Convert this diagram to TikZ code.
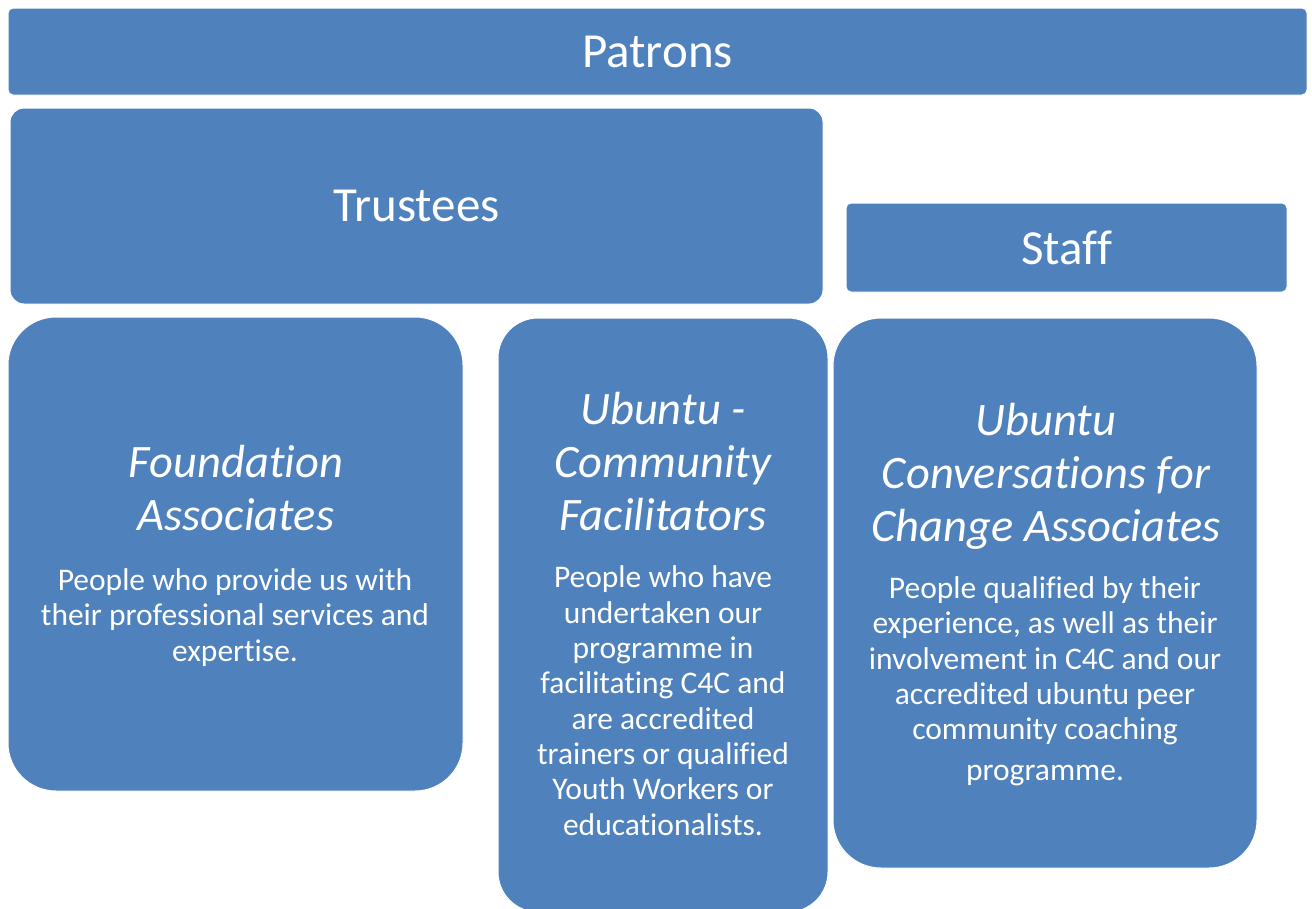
\documentclass[tikz,border=0pt]{standalone}
\usepackage{fontspec}
\setmainfont{Carlito}[Ligatures=NoCommon]
\usetikzlibrary{positioning}
\definecolor{boxblue}{HTML}{4F81BD}
\tikzset{
  box/.style={fill=boxblue, draw=white, line width=1pt, inner sep=0pt, text=white},
  head/.style={font=\fontsize{49}{58}\selectfont},
  title/.style={text=white, align=center, inner sep=0pt, anchor=base, font=\fontsize{46.5}{53}\selectfont\itshape},
  body/.style={text=white, align=center, inner sep=0pt, anchor=base, font=\fontsize{31.5}{35.3}\selectfont},
}

\begin{document}
\begin{tikzpicture}[x=1pt,y=-1pt]
\useasboundingbox[fill=white] (0,0) rectangle (1312,908);
% top row
\node[box, head, minimum width=1299pt, minimum height=87pt, rounded corners=5pt] (patrons) at (657.5,51.5) {Patrons};
\node[box, head, minimum width=813pt, minimum height=196pt, rounded corners=14pt] (trustees) at (416.5,206) {Trustees};
\node[box, head, minimum width=441pt, minimum height=89pt, rounded corners=5pt] (staff) at (1066.5,247.5) {Staff};
% associate boxes
\node[box, minimum width=455pt, minimum height=474pt, rounded corners=48pt] (found) at (235.5,554) {};
\node[box, minimum width=330pt, minimum height=594pt, rounded corners=40pt] (ucf) at (663,615) {};
\node[box, minimum width=424pt, minimum height=550pt, rounded corners=48pt] (ucca) at (1045,593) {};
% texts (anchored at the last baseline)
\node[title] (foundT) at (236,530) {Foundation\\Associates};
\node[body] (foundB) at (235,661) {People who provide us with\\their professional services and\\expertise.};
\node[title] (ucfT) at (663,530) {Ubuntu -\\Community\\Facilitators};
\node[body] (ucfB) at (663,835) {People who have\\undertaken our\\programme in\\facilitating C4C and\\are accredited\\trainers or qualified\\Youth Workers or\\educationalists.};
\node[title] (uccaT) at (1046,541) {Ubuntu\\Conversations for\\Change Associates};
\node[body] (uccaB) at (1045,780) {People qualified by their\\experience, as well as their\\involvement in C4C and our\\accredited ubuntu peer\\community coaching\\[5pt]programme.};
\end{tikzpicture}
\end{document}
